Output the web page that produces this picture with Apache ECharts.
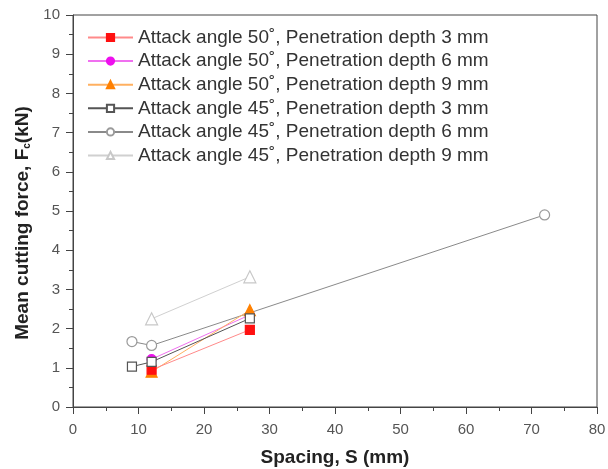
<!DOCTYPE html>
<html><head><meta charset="utf-8">
<script src="https://cdn.jsdelivr.net/npm/echarts@6/dist/echarts.min.js"></script>
<style>html,body{margin:0;padding:0;background:#fff}#c{width:608px;height:469px}</style>
</head><body><div id="c"></div>
<script>
const seriesNames = [
  'Attack angle 50˚, Penetration depth 3 mm',
  'Attack angle 50˚, Penetration depth 6 mm',
  'Attack angle 50˚, Penetration depth 9 mm',
  'Attack angle 45˚, Penetration depth 3 mm',
  'Attack angle 45˚, Penetration depth 6 mm',
  'Attack angle 45˚, Penetration depth 9 mm'
];
const s50d3 = [[12, 0.95], [27, 1.97]];
const s50d6 = [[12, 1.22], [27, 2.35]];
const s50d9 = [[12, 0.9], [27, 2.47]];
const s45d3 = [[9, 1.03], [12, 1.15], [27, 2.26]];
const s45d6 = [[9, 1.67], [12, 1.57], [72, 4.9]];
const s45d9 = [[12, 2.25], [27, 3.32]];
const xTicks = [0, 10, 20, 30, 40, 50, 60, 70, 80];
const yTicks = [0, 1, 2, 3, 4, 5, 6, 7, 8, 9, 10];

const FONT = 'Liberation Sans, Arial, sans-serif';
const styles = [
  {sym: 'rect', color: '#ff1010', line: '#ff8a8a', fill: '#ff1010', size: 9},
  {sym: 'circle', color: '#ee10ee', line: '#f070f0', fill: '#ee10ee', size: 9},
  {sym: 'triangle', color: '#ff8000', line: '#ffb060', fill: '#ff8000', size: 11},
  {sym: 'rect', color: '#555555', line: '#555555', fill: '#ffffff', size: 9},
  {sym: 'circle', color: '#9a9a9a', line: '#8a8a8a', fill: '#ffffff', size: 10},
  {sym: 'triangle', color: '#c8c8c8', line: '#d0d0d0', fill: '#ffffff', size: 12}
];
const datas = [s50d3, s50d6, s50d9, s45d3, s45d6, s45d9];
const zs = [6, 4, 5, 7, 3, 2];

const series = datas.map((d, i) => ({
  name: seriesNames[i],
  type: 'line',
  data: d,
  symbol: styles[i].sym,
  symbolSize: styles[i].size,
  z: zs[i],
  lineStyle: {color: styles[i].line, width: 1},
  itemStyle: {color: styles[i].fill, borderColor: styles[i].color, borderWidth: 1.2},
  emphasis: {disabled: true}
}));

const chart = echarts.init(document.getElementById('c'), null, {renderer: 'canvas'});
chart.setOption({
  animation: false,
  backgroundColor: '#fff',
  textStyle: {fontFamily: FONT},
  grid: {left: 73, right: 11, top: 15, bottom: 62, show: true, borderColor: '#444', borderWidth: 1,
         containLabel: false, outerBoundsMode: 'none'},
  legend: {
    left: 82, top: 23, orient: 'vertical', itemGap: 4.6, itemWidth: 45, itemHeight: 9,
    textStyle: {fontSize: 19, lineHeight: 19, color: '#333', fontFamily: FONT},
    data: seriesNames
  },
  xAxis: {
    type: 'value', min: xTicks[0], max: xTicks[xTicks.length - 1], interval: 10,
    name: 'Spacing, S (mm)', nameLocation: 'middle', nameGap: 41,
    nameTextStyle: {fontSize: 19, fontWeight: 'bold', color: '#222', fontFamily: FONT},
    axisLine: {show: true, lineStyle: {color: '#444'}},
    axisTick: {show: true, length: 7, lineStyle: {color: '#444'}},
    minorTick: {show: true, splitNumber: 2, length: 4, lineStyle: {color: '#444'}},
    axisLabel: {fontSize: 15, color: '#555', margin: 15, fontFamily: FONT},
    splitLine: {show: false}
  },
  yAxis: {
    type: 'value', min: yTicks[0], max: yTicks[yTicks.length - 1], interval: 1,
    name: '{a|Mean cutting force, F}{b|c}{a|(kN)}', nameLocation: 'middle', nameGap: 38,
    nameTextStyle: {
      padding: [0, 24, 0, 0],
      rich: {
        a: {fontSize: 19, fontWeight: 'bold', color: '#222', fontFamily: FONT},
        b: {fontSize: 10, fontWeight: 'bold', color: '#222', padding: [10, 0, 0, 0], fontFamily: FONT}
      }
    },
    axisLine: {show: true, lineStyle: {color: '#444'}},
    axisTick: {show: true, length: 7, lineStyle: {color: '#444'}},
    minorTick: {show: true, splitNumber: 2, length: 4, lineStyle: {color: '#444'}},
    axisLabel: {fontSize: 15, color: '#555', margin: 13, fontFamily: FONT},
    splitLine: {show: false}
  },
  series: series
});
</script></body></html>
